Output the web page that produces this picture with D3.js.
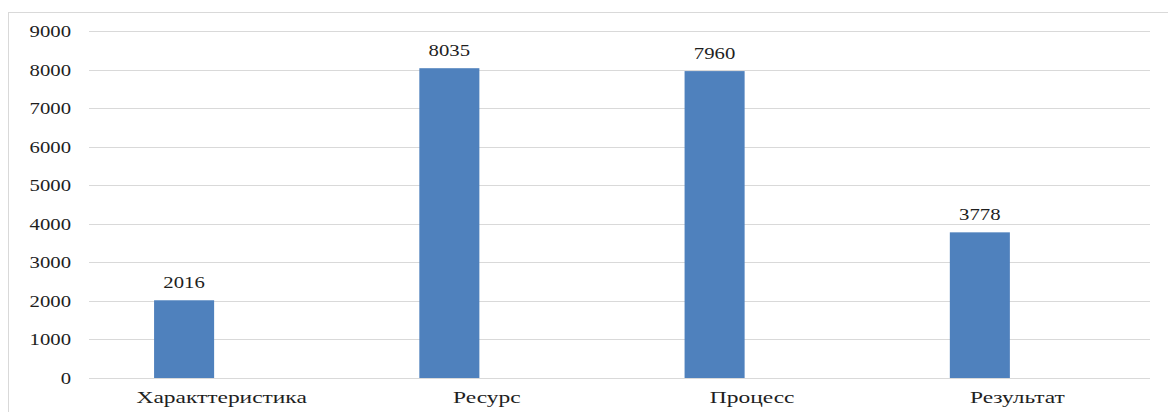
<!DOCTYPE html>
<html><head><meta charset="utf-8">
<script src="https://cdn.jsdelivr.net/npm/d3@7"></script>
<style>html,body{margin:0;padding:0;background:#fff;}</style>
</head><body>
<svg id="c" width="1168" height="412"></svg>
<script>
const categories = ["Характтеристика", "Ресурс", "Процесс", "Результат"];
const values = [2016, 8035, 7960, 3778];
const series = ["v", "empty"];
const yTicks = [0, 1000, 2000, 3000, 4000, 5000, 6000, 7000, 8000, 9000];

const svg = d3.select("#c");
const W = 1168, H = 412;
const m = {left: 89, right: 18, top: 31, bottom: 34};
const font = "'Liberation Serif','Times New Roman',serif";

svg.append("rect").attr("x", 8.5).attr("y", 12.5).attr("width", 1200).attr("height", 500)
  .attr("fill", "none").attr("stroke", "#d9d9d9");

const x = d3.scaleBand().domain(categories).range([m.left, W - m.right]).padding(0);
const x1 = d3.scaleBand().domain(series).range([0, x.bandwidth()]).paddingInner(0.2).paddingOuter(0.867);
const y = d3.scaleLinear().domain([0, 9000]).range([H - m.bottom, m.top]);

const grid = svg.append("g");
grid.selectAll("line").data(yTicks).join("line")
  .attr("x1", m.left).attr("x2", W - m.right)
  .attr("y1", d => Math.round(y(d)) + 0.5).attr("y2", d => Math.round(y(d)) + 0.5)
  .attr("stroke", "#d9d9d9").attr("stroke-width", 1);

function stext(g, tx, ty, txt, anchor, sx) {
  g.append("text").attr("transform", `translate(${tx},${ty}) scale(${sx},1)`)
    .attr("text-anchor", anchor).attr("font-family", font).attr("font-size", 17)
    .attr("fill", "#1e1e1e").text(txt);
}

const yl = svg.append("g");
yTicks.forEach(t => stext(yl, 71, y(t) + 6, String(t), "end", 1.22));

const bars = svg.append("g");
bars.selectAll("rect").data(values).join("rect")
  .attr("x", (d, i) => x(categories[i]) + x1("v"))
  .attr("width", x1.bandwidth())
  .attr("y", d => y(d)).attr("height", d => y(0) - y(d))
  .attr("fill", "#4f81bd");

const vl = svg.append("g");
values.forEach((v, i) => stext(vl, x(categories[i]) + x1("v") + x1.bandwidth() / 2, y(v) - 12, String(v), "middle", 1.22));

const xl = svg.append("g");
categories.forEach(c => stext(xl, x(c) + x.bandwidth() / 2, 403, c, "middle", 1.38));
</script>
</body></html>
